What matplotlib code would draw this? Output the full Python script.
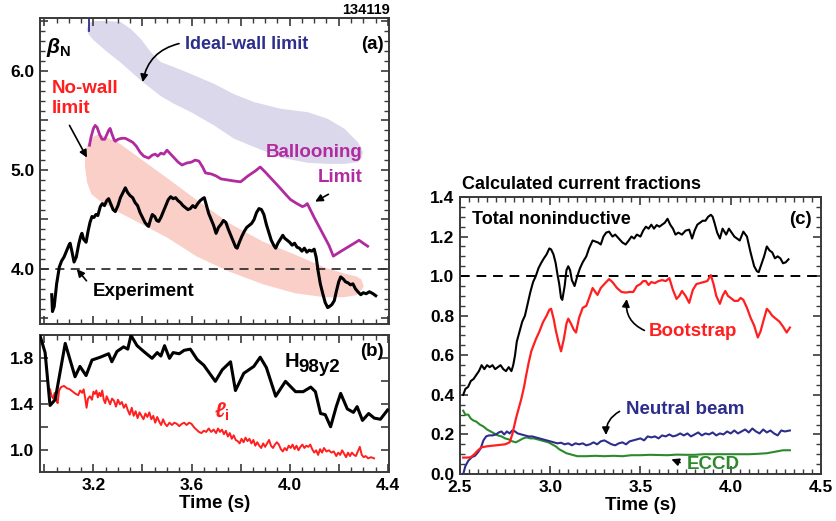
import matplotlib
matplotlib.use("Agg")
import matplotlib.pyplot as plt
from matplotlib import font_manager
from matplotlib.ticker import MultipleLocator, FuncFormatter

_names = {f.name for f in font_manager.fontManager.ttflist}
FONT = "Liberation Sans Narrow" if "Liberation Sans Narrow" in _names else "Liberation Sans"
plt.rcParams["font.family"] = [FONT, "DejaVu Sans"]
plt.rcParams["font.weight"] = "bold"
plt.rcParams["mathtext.fontset"] = "custom"
plt.rcParams["mathtext.rm"] = FONT + ":bold"
plt.rcParams["mathtext.bf"] = FONT + ":bold"
plt.rcParams["mathtext.it"] = FONT + ":italic:bold"

# ---------------- (a) beta_N ----------------
exp_t = [3.030, 3.033, 3.040, 3.050, 3.061, 3.070, 3.080, 3.090, 3.100, 3.105, 3.112, 3.121,
         3.130, 3.140, 3.148, 3.153, 3.160, 3.170, 3.178, 3.186, 3.194, 3.202, 3.210, 3.218,
         3.228, 3.236, 3.245, 3.254, 3.262, 3.270, 3.280, 3.289, 3.300, 3.310, 3.320, 3.330,
         3.340, 3.350, 3.360, 3.370, 3.380, 3.390, 3.400, 3.410, 3.420, 3.425, 3.433, 3.440,
         3.450, 3.458, 3.466, 3.475, 3.485, 3.495, 3.505, 3.515, 3.525, 3.535, 3.545, 3.555,
         3.565, 3.575, 3.585, 3.595, 3.605, 3.615, 3.625, 3.635, 3.645, 3.652, 3.660, 3.670,
         3.680, 3.690, 3.700, 3.710, 3.720, 3.730, 3.740, 3.750, 3.760, 3.770, 3.780, 3.786,
         3.795, 3.805, 3.815, 3.825, 3.835, 3.845, 3.855, 3.865, 3.875, 3.885, 3.895, 3.905,
         3.915, 3.925, 3.935, 3.943, 3.952, 3.962, 3.972, 3.980, 3.990, 4.000, 4.010, 4.020,
         4.030, 4.040, 4.050, 4.060, 4.070, 4.080, 4.090, 4.100, 4.108, 4.116, 4.125, 4.135,
         4.145, 4.155, 4.162, 4.172, 4.182, 4.190, 4.200, 4.208, 4.218, 4.228, 4.238, 4.248,
         4.258, 4.268, 4.278, 4.290, 4.300, 4.312, 4.325, 4.340, 4.351]
exp_beta = [3.74, 3.57, 3.62, 3.85, 4.02, 4.08, 4.12, 4.18, 4.24, 4.26, 4.18, 4.07,
            4.12, 4.25, 4.33, 4.36, 4.30, 4.27, 4.38, 4.47, 4.53, 4.52, 4.55, 4.54,
            4.63, 4.66, 4.64, 4.69, 4.71, 4.66, 4.60, 4.58, 4.64, 4.72, 4.77, 4.82,
            4.77, 4.74, 4.72, 4.67, 4.64, 4.57, 4.52, 4.47, 4.44, 4.43, 4.50, 4.55,
            4.53, 4.49, 4.48, 4.52, 4.58, 4.64, 4.70, 4.73, 4.71, 4.72, 4.69, 4.67,
            4.64, 4.62, 4.60, 4.61, 4.64, 4.62, 4.66, 4.69, 4.71, 4.72, 4.65, 4.56,
            4.50, 4.44, 4.36, 4.42, 4.45, 4.49, 4.47, 4.40, 4.34, 4.28, 4.22, 4.21,
            4.27, 4.33, 4.38, 4.42, 4.44, 4.46, 4.50, 4.57, 4.61, 4.60, 4.55, 4.45,
            4.37, 4.29, 4.24, 4.21, 4.26, 4.30, 4.34, 4.31, 4.29, 4.27, 4.24, 4.26,
            4.22, 4.21, 4.18, 4.21, 4.17, 4.19, 4.18, 4.20, 4.12, 3.98, 3.85, 3.75,
            3.66, 3.61, 3.62, 3.64, 3.68, 3.77, 3.87, 3.92, 3.90, 3.87, 3.86, 3.84,
            3.85, 3.80, 3.77, 3.74, 3.76, 3.75, 3.77, 3.75, 3.73]

ball_t = [3.184, 3.190, 3.200, 3.207, 3.215, 3.225, 3.235, 3.246, 3.255, 3.262, 3.268, 3.276,
          3.285, 3.290, 3.300, 3.315, 3.330, 3.345, 3.360, 3.375, 3.390, 3.405, 3.425, 3.440,
          3.452, 3.462, 3.475, 3.487, 3.500, 3.515, 3.530, 3.545, 3.561, 3.580, 3.600, 3.615,
          3.630, 3.645, 3.657, 3.680, 3.700, 3.720, 3.745, 3.770, 3.800, 3.830, 3.860, 3.880,
          3.900, 3.930, 3.960, 3.985, 4.004, 4.030, 4.052, 4.062, 4.072, 4.100, 4.130, 4.160,
          4.178, 4.210, 4.250, 4.283, 4.300, 4.318]
ball_beta = [5.25, 5.33, 5.42, 5.45, 5.43, 5.36, 5.31, 5.31, 5.36, 5.40, 5.42, 5.36,
             5.30, 5.29, 5.31, 5.32, 5.32, 5.30, 5.28, 5.24, 5.18, 5.14, 5.12, 5.15,
             5.16, 5.14, 5.17, 5.16, 5.20, 5.16, 5.12, 5.08, 5.05, 5.07, 5.08, 5.10,
             5.09, 5.03, 4.97, 4.96, 4.94, 4.91, 4.90, 4.89, 4.88, 4.94, 4.99, 5.03,
             4.98, 4.90, 4.82, 4.75, 4.70, 4.66, 4.63, 4.64, 4.66, 4.52, 4.38, 4.24,
             4.13, 4.18, 4.24, 4.29, 4.26, 4.23]

# Ideal-wall and no-wall stability limits (shaded ranges)
iw_t = [3.170, 3.180, 3.200, 3.255, 3.309, 3.350, 3.391, 3.432, 3.473, 3.527, 3.595,
        3.690, 3.772, 3.854, 3.963, 4.072, 4.153, 4.222, 4.276, 4.290, 4.297]
iw_upper = [6.42, 6.49, 6.51, 6.51, 6.50, 6.43, 6.33, 6.195, 6.094, 6.044, 5.976,
            5.875, 5.77, 5.69, 5.623, 5.589, 5.522, 5.421, 5.286, 5.23, 5.185]
iw_lower = [6.42, 6.37, 6.313, 6.195, 6.09, 6.00, 5.909, 5.83, 5.75, 5.673, 5.59,
            5.455, 5.32, 5.236, 5.13, 5.077, 5.067, 5.067, 5.084, 5.12, 5.185]

nw_t = [3.163, 3.172, 3.190, 3.220, 3.300, 3.400, 3.500, 3.620, 3.750, 3.890, 4.020,
        4.140, 4.220, 4.270, 4.290, 4.300]
nw_upper = [5.10, 5.25, 5.33, 5.37, 5.28, 5.10, 4.92, 4.70, 4.47, 4.28, 4.15,
            4.02, 3.96, 3.93, 3.90, 3.83]
nw_lower = [5.05, 4.88, 4.76, 4.70, 4.58, 4.45, 4.32, 4.13, 3.98, 3.85, 3.76,
            3.72, 3.72, 3.74, 3.79, 3.83]

iw_stub_t = [3.183, 3.183]
iw_stub_beta = [6.40, 6.54]

# ---------------- (b) H98y2 and li ----------------
h_t = [2.982, 3.003, 3.023, 3.044, 3.085, 3.125, 3.145, 3.170, 3.194, 3.228, 3.262, 3.275,
       3.296, 3.323, 3.340, 3.353, 3.378, 3.405, 3.439, 3.460, 3.475, 3.490, 3.510, 3.525,
       3.550, 3.570, 3.595, 3.623, 3.650, 3.697, 3.725, 3.759, 3.779, 3.813, 3.854, 3.880,
       3.905, 3.943, 3.983, 4.024, 4.055, 4.086, 4.105, 4.126, 4.145, 4.167, 4.190, 4.208,
       4.235, 4.260, 4.275, 4.297, 4.322, 4.345, 4.370, 4.399]
h98 = [2.00, 1.85, 1.39, 1.44, 1.93, 1.64, 1.73, 1.65, 1.785, 1.81, 1.84, 1.77,
       1.86, 1.90, 1.88, 2.00, 1.91, 1.86, 1.80, 1.85, 1.82, 1.91, 1.80, 1.85,
       1.84, 1.87, 1.88, 1.79, 1.74, 1.60, 1.70, 1.77, 1.52, 1.67, 1.73, 1.81,
       1.72, 1.47, 1.60, 1.51, 1.51, 1.55, 1.51, 1.32, 1.31, 1.205, 1.38, 1.495,
       1.36, 1.33, 1.38, 1.26, 1.32, 1.28, 1.27, 1.35]

li_t = [3.023, 3.030, 3.036, 3.042, 3.048, 3.054, 3.060, 3.068, 3.080, 3.092, 3.104, 3.116,
        3.128, 3.138, 3.146, 3.154, 3.160, 3.166, 3.172, 3.178, 3.186, 3.194, 3.200, 3.206,
        3.212, 3.218, 3.224, 3.230, 3.236, 3.242, 3.248, 3.254, 3.260, 3.268, 3.276, 3.284,
        3.292, 3.300, 3.308, 3.316, 3.324, 3.332, 3.340, 3.348, 3.356, 3.364, 3.372, 3.380,
        3.388, 3.396, 3.404, 3.412, 3.420, 3.428, 3.436, 3.444, 3.452, 3.460, 3.468, 3.476,
        3.484, 3.492, 3.500, 3.510, 3.520, 3.530, 3.540, 3.550, 3.560, 3.570, 3.580, 3.590,
        3.600, 3.610, 3.620, 3.630, 3.640, 3.650, 3.660, 3.670, 3.680, 3.690, 3.700, 3.708,
        3.716, 3.724, 3.732, 3.740, 3.748, 3.756, 3.764, 3.772, 3.780, 3.788, 3.796, 3.804,
        3.812, 3.820, 3.828, 3.836, 3.844, 3.852, 3.860, 3.868, 3.876, 3.884, 3.892, 3.900,
        3.908, 3.916, 3.924, 3.932, 3.940, 3.948, 3.956, 3.964, 3.972, 3.980, 3.988, 3.996,
        4.004, 4.012, 4.020, 4.028, 4.036, 4.044, 4.052, 4.060, 4.068, 4.076, 4.084, 4.092,
        4.100, 4.108, 4.116, 4.124, 4.132, 4.140, 4.150, 4.160, 4.170, 4.180, 4.190, 4.198,
        4.206, 4.214, 4.222, 4.230, 4.238, 4.246, 4.254, 4.262, 4.270, 4.278, 4.286, 4.294,
        4.302, 4.310, 4.320, 4.332, 4.344]
li = [1.53, 1.47, 1.45, 1.50, 1.44, 1.41, 1.52, 1.55, 1.56, 1.54, 1.53, 1.51,
      1.49, 1.48, 1.52, 1.50, 1.53, 1.46, 1.37, 1.45, 1.47, 1.44, 1.51, 1.49,
      1.52, 1.46, 1.50, 1.47, 1.52, 1.44, 1.41, 1.47, 1.44, 1.40, 1.45, 1.43,
      1.38, 1.44, 1.40, 1.42, 1.37, 1.40, 1.35, 1.31, 1.37, 1.30, 1.34, 1.28,
      1.33, 1.30, 1.27, 1.32, 1.29, 1.33, 1.27, 1.30, 1.24, 1.29, 1.25, 1.22,
      1.27, 1.23, 1.21, 1.24, 1.22, 1.24, 1.23, 1.21, 1.23, 1.24, 1.22, 1.24,
      1.23, 1.20, 1.18, 1.16, 1.15, 1.17, 1.16, 1.19, 1.16, 1.18, 1.15, 1.19,
      1.16, 1.18, 1.14, 1.17, 1.12, 1.15, 1.10, 1.13, 1.09, 1.08, 1.06, 1.10,
      1.07, 1.11, 1.08, 1.10, 1.06, 1.09, 1.04, 1.07, 1.04, 1.02, 1.06, 1.03,
      1.06, 1.09, 1.04, 1.02, 1.05, 1.07, 1.05, 1.01, 0.99, 1.02, 1.00, 1.04,
      1.02, 1.05, 1.01, 1.04, 1.00, 1.03, 1.05, 1.02, 1.04, 1.03, 1.05, 1.01,
      0.98, 1.00, 0.96, 1.01, 0.98, 1.02, 0.99, 1.00, 0.98, 0.99, 0.95, 0.98,
      0.96, 1.00, 0.97, 0.94, 0.98, 0.95, 0.98, 0.96, 0.95, 0.99, 1.03, 0.96,
      0.94, 0.95, 0.93, 0.94, 0.93]

# ---------------- (c) current fractions ----------------
tot_t = [2.518, 2.530, 2.545, 2.560, 2.575, 2.590, 2.605, 2.620, 2.635, 2.650, 2.665, 2.680,
         2.695, 2.710, 2.725, 2.740, 2.755, 2.770, 2.785, 2.795, 2.805, 2.815, 2.830, 2.845,
         2.860, 2.875, 2.890, 2.905, 2.920, 2.935, 2.950, 2.965, 2.980, 2.995, 3.005, 3.018,
         3.030, 3.040, 3.050, 3.060, 3.067, 3.080, 3.090, 3.100, 3.110, 3.120, 3.135, 3.150,
         3.165, 3.180, 3.200, 3.215, 3.235, 3.250, 3.265, 3.280, 3.295, 3.310, 3.326, 3.345,
         3.360, 3.380, 3.400, 3.418, 3.435, 3.450, 3.465, 3.480, 3.500, 3.515, 3.530, 3.545,
         3.560, 3.575, 3.590, 3.605, 3.620, 3.635, 3.650, 3.665, 3.680, 3.694, 3.710, 3.730,
         3.750, 3.770, 3.786, 3.800, 3.815, 3.830, 3.845, 3.860, 3.875, 3.890, 3.900, 3.910,
         3.925, 3.940, 3.955, 3.975, 3.990, 4.020, 4.050, 4.070, 4.090, 4.110, 4.130, 4.145,
         4.155, 4.170, 4.185, 4.200, 4.215, 4.230, 4.245, 4.260, 4.275, 4.290, 4.305, 4.320]
tot = [0.40, 0.43, 0.44, 0.47, 0.48, 0.50, 0.52, 0.55, 0.53, 0.55, 0.54, 0.55,
       0.53, 0.54, 0.55, 0.53, 0.52, 0.54, 0.52, 0.55, 0.60, 0.67, 0.72, 0.77,
       0.80, 0.86, 0.92, 0.97, 1.00, 1.04, 1.067, 1.09, 1.11, 1.14, 1.135, 1.11,
       1.067, 1.01, 0.96, 0.89, 0.88, 0.95, 1.03, 1.05, 1.03, 0.98, 0.95, 1.00,
       1.04, 1.07, 1.10, 1.14, 1.18, 1.175, 1.17, 1.16, 1.20, 1.22, 1.225, 1.20,
       1.21, 1.19, 1.17, 1.16, 1.18, 1.20, 1.19, 1.21, 1.20, 1.23, 1.25, 1.24,
       1.26, 1.24, 1.258, 1.25, 1.26, 1.27, 1.29, 1.26, 1.24, 1.21, 1.22, 1.21,
       1.23, 1.235, 1.19, 1.23, 1.26, 1.27, 1.28, 1.28, 1.30, 1.31, 1.30, 1.27,
       1.22, 1.19, 1.24, 1.21, 1.24, 1.20, 1.18, 1.225, 1.20, 1.12, 1.05, 1.025,
       1.02, 1.06, 1.10, 1.15, 1.13, 1.12, 1.09, 1.10, 1.09, 1.065, 1.07, 1.085]

bs_t = [2.518, 2.540, 2.560, 2.580, 2.600, 2.620, 2.650, 2.700, 2.750, 2.775, 2.790, 2.800,
        2.810, 2.825, 2.840, 2.855, 2.867, 2.880, 2.895, 2.920, 2.940, 2.960, 2.980, 2.995,
        3.005, 3.020, 3.030, 3.045, 3.060, 3.075, 3.090, 3.100, 3.115, 3.130, 3.143, 3.160,
        3.180, 3.200, 3.220, 3.235, 3.250, 3.262, 3.280, 3.300, 3.326, 3.345, 3.370, 3.395,
        3.418, 3.440, 3.460, 3.480, 3.500, 3.515, 3.530, 3.545, 3.560, 3.580, 3.600, 3.620,
        3.640, 3.660, 3.680, 3.700, 3.715, 3.730, 3.750, 3.770, 3.790, 3.810, 3.830, 3.850,
        3.870, 3.890, 3.905, 3.920, 3.940, 3.955, 3.970, 3.985, 4.000, 4.020, 4.040, 4.055,
        4.070, 4.090, 4.110, 4.130, 4.150, 4.165, 4.180, 4.200, 4.215, 4.230, 4.250, 4.270,
        4.290, 4.310, 4.328]
bs = [0.083, 0.083, 0.085, 0.10, 0.12, 0.135, 0.14, 0.145, 0.15, 0.16, 0.20, 0.24,
      0.28, 0.33, 0.38, 0.44, 0.50, 0.56, 0.62, 0.68, 0.72, 0.767, 0.80, 0.83,
      0.835, 0.78, 0.73, 0.67, 0.62, 0.68, 0.76, 0.785, 0.76, 0.73, 0.715, 0.79,
      0.84, 0.85, 0.90, 0.94, 0.92, 0.905, 0.94, 0.96, 0.985, 0.97, 0.94, 0.92,
      0.917, 0.92, 0.92, 0.95, 0.96, 0.975, 0.975, 0.955, 0.97, 0.965, 0.975, 0.98,
      0.975, 0.99, 0.93, 0.885, 0.90, 0.925, 0.90, 0.865, 0.93, 0.96, 0.965, 0.97,
      0.975, 1.005, 0.96, 0.90, 0.86, 0.90, 0.925, 0.90, 0.89, 0.875, 0.875, 0.89,
      0.88, 0.84, 0.79, 0.75, 0.69, 0.72, 0.77, 0.835, 0.82, 0.80, 0.785, 0.77,
      0.745, 0.715, 0.74]

nb_t = [2.518, 2.530, 2.546, 2.565, 2.583, 2.600, 2.615, 2.630, 2.645, 2.660, 2.680, 2.700,
        2.715, 2.730, 2.745, 2.760, 2.775, 2.790, 2.805, 2.820, 2.840, 2.860, 2.880, 2.900,
        2.920, 2.940, 2.960, 2.980, 3.000, 3.020, 3.040, 3.060, 3.080, 3.100, 3.120, 3.140,
        3.160, 3.180, 3.200, 3.220, 3.240, 3.260, 3.280, 3.300, 3.320, 3.340, 3.360, 3.380,
        3.400, 3.420, 3.440, 3.460, 3.480, 3.500, 3.520, 3.540, 3.560, 3.580, 3.600, 3.620,
        3.640, 3.660, 3.680, 3.700, 3.720, 3.740, 3.760, 3.780, 3.800, 3.820, 3.840, 3.860,
        3.880, 3.900, 3.920, 3.940, 3.960, 3.980, 4.000, 4.020, 4.040, 4.060, 4.080, 4.100,
        4.120, 4.140, 4.160, 4.180, 4.200, 4.220, 4.240, 4.260, 4.280, 4.300, 4.328]
nb = [0.00, 0.04, 0.067, 0.085, 0.092, 0.11, 0.13, 0.17, 0.19, 0.195, 0.195, 0.20,
      0.21, 0.215, 0.20, 0.215, 0.205, 0.22, 0.215, 0.205, 0.20, 0.195, 0.19, 0.19,
      0.185, 0.18, 0.175, 0.17, 0.165, 0.16, 0.155, 0.158, 0.15, 0.155, 0.145, 0.155,
      0.15, 0.155, 0.145, 0.15, 0.16, 0.15, 0.165, 0.17, 0.16, 0.15, 0.145, 0.155,
      0.16, 0.15, 0.165, 0.17, 0.175, 0.18, 0.17, 0.19, 0.185, 0.19, 0.18, 0.195,
      0.19, 0.20, 0.19, 0.195, 0.205, 0.195, 0.205, 0.19, 0.20, 0.21, 0.195, 0.205,
      0.20, 0.21, 0.195, 0.205, 0.20, 0.215, 0.205, 0.22, 0.205, 0.215, 0.225, 0.21,
      0.23, 0.215, 0.205, 0.225, 0.21, 0.22, 0.205, 0.195, 0.22, 0.215, 0.22]

ec_t = [2.518, 2.530, 2.546, 2.560, 2.575, 2.590, 2.610, 2.630, 2.650, 2.670, 2.690, 2.710,
        2.730, 2.750, 2.770, 2.790, 2.810, 2.830, 2.850, 2.870, 2.890, 2.910, 2.930, 2.950,
        2.970, 2.990, 3.010, 3.030, 3.050, 3.070, 3.090, 3.110, 3.130, 3.150, 3.200, 3.250,
        3.300, 3.350, 3.400, 3.450, 3.500, 3.550, 3.600, 3.650, 3.700, 3.750, 3.800, 3.850,
        3.900, 3.950, 4.000, 4.050, 4.100, 4.150, 4.200, 4.230, 4.260, 4.290, 4.328]
ec = [0.32, 0.30, 0.30, 0.28, 0.27, 0.265, 0.25, 0.24, 0.225, 0.215, 0.205, 0.195,
      0.19, 0.18, 0.175, 0.165, 0.16, 0.17, 0.18, 0.185, 0.18, 0.18, 0.175, 0.17,
      0.165, 0.16, 0.15, 0.14, 0.125, 0.115, 0.105, 0.10, 0.095, 0.09, 0.09, 0.092,
      0.09, 0.092, 0.09, 0.095, 0.095, 0.097, 0.096, 0.095, 0.098, 0.097, 0.097, 0.10,
      0.10, 0.10, 0.10, 0.10, 0.10, 0.102, 0.105, 0.11, 0.115, 0.12, 0.12]

NAVY = "#2d2d8c"
MAGENTA = "#b12a9f"
RED = "#ff1f1f"
GREEN = "#2c8a2c"
LAVENDER = "#dcd8ec"
PINK = "#f9cfc8"
FRAME = "#3a3a3a"

fig = plt.figure(figsize=(8.36, 5.21), dpi=100)
ax_a = fig.add_axes([0.0478, 0.3781, 0.4175, 0.5873])
ax_b = fig.add_axes([0.0478, 0.0940, 0.4175, 0.2630], sharex=ax_a)
ax_c = fig.add_axes([0.5502, 0.0902, 0.4318, 0.5317])


def style(ax):
    for s in ax.spines.values():
        s.set_color(FRAME)
        s.set_linewidth(1.4)
    ax.tick_params(which="both", direction="in", top=True, right=True,
                   color=FRAME, labelsize=12.5, pad=4)
    ax.tick_params(which="major", length=6, width=1.2)
    ax.tick_params(which="minor", length=3.5, width=1.0)
    for lab in ax.get_xticklabels() + ax.get_yticklabels():
        lab.set_fontweight("bold")


arrow_kw = dict(arrowstyle="-|>", color="black", lw=1.2, mutation_scale=11)

# ---- panel (a)
ax_a.fill_between(iw_t, iw_lower, iw_upper, color=LAVENDER, lw=0, zorder=1)
ax_a.fill_between(nw_t, nw_lower, nw_upper, color=PINK, lw=0, zorder=1)
ax_a.plot(iw_stub_t, iw_stub_beta, color=NAVY, lw=1.3, zorder=2)
ax_a.axhline(4.0, color="#333333", lw=1.3, ls=(0, (5, 3.5)), zorder=2)
ax_a.plot(ball_t, ball_beta, color=MAGENTA, lw=2.0, zorder=3)
ax_a.plot(exp_t, exp_beta, color="black", lw=2.2, zorder=4)
ax_a.set_xlim(2.982, 4.405)
ax_a.set_ylim(3.444, 6.535)
ax_a.xaxis.set_major_locator(MultipleLocator(0.2))
ax_a.xaxis.set_minor_locator(MultipleLocator(0.05))
ax_a.yaxis.set_major_locator(MultipleLocator(0.5))
ax_a.yaxis.set_minor_locator(MultipleLocator(0.1))
ax_a.yaxis.set_major_formatter(FuncFormatter(lambda v, p: f"{v:.1f}" if abs(v - round(v)) < 1e-6 else ""))
ax_a.tick_params(labelbottom=False)
style(ax_a)

ax_a.text(0.018, 0.905, r"$\beta_{\mathbf{N}}$", transform=ax_a.transAxes, fontsize=15,
          ha="left", va="center")
ax_a.text(0.985, 0.912, "(a)", transform=ax_a.transAxes, fontsize=13.5, ha="right", va="center")
ax_a.text(3.575, 6.263, "Ideal-wall limit", color=NAVY, fontsize=13, ha="left", va="center")
ax_a.annotate("", xy=(3.399, 5.86), xytext=(3.560, 6.283),
              arrowprops=dict(connectionstyle="arc3,rad=0.35", **arrow_kw))
ax_a.text(3.031, 5.725, "No-wall\nlimit", color=RED, fontsize=13.5, ha="left", va="center",
          linespacing=1.2)
ax_a.annotate("", xy=(3.179, 5.10), xytext=(3.097, 5.475), arrowprops=dict(**arrow_kw))
ax_a.text(4.298, 5.18, "Ballooning", color=MAGENTA, fontsize=13.5, ha="right", va="center")
ax_a.text(4.298, 4.92, "Limit", color=MAGENTA, fontsize=13.5, ha="right", va="center")
ax_a.annotate("", xy=(4.094, 4.667), xytext=(4.168, 4.768), arrowprops=dict(**arrow_kw))
ax_a.text(3.199, 3.77, "Experiment", color="black", fontsize=13.5, ha="left", va="center")
ax_a.annotate("", xy=(3.125, 4.02), xytext=(3.179, 3.859), arrowprops=dict(**arrow_kw))
fig.text(0.4665, 0.981, "134119", fontsize=10.5, ha="right", va="center")

# ---- panel (b)
ax_b.plot(li_t, li, color=RED, lw=1.4, zorder=3)
ax_b.plot(h_t, h98, color="black", lw=2.2, zorder=4)
ax_b.set_ylim(0.811, 2.003)
ax_b.xaxis.set_major_locator(MultipleLocator(0.2))
ax_b.xaxis.set_minor_locator(MultipleLocator(0.05))
ax_b.xaxis.set_major_formatter(FuncFormatter(lambda v, p: f"{v:.1f}" if abs(v * 10 / 4 - round(v * 10 / 4)) < 1e-6 else ""))
ax_b.yaxis.set_major_locator(MultipleLocator(0.2))
ax_b.yaxis.set_major_formatter(FuncFormatter(lambda v, p: f"{v:.1f}" if abs((v - 1.0) / 0.4 - round((v - 1.0) / 0.4)) < 1e-6 else ""))
style(ax_b)
ax_b.set_xlabel("Time (s)", fontsize=13.5, fontweight="bold", labelpad=2)
ax_b.text(0.702, 0.805, "H", transform=ax_b.transAxes, fontsize=14.5, ha="left", va="center")
ax_b.text(0.740, 0.765, "98y2", transform=ax_b.transAxes, fontsize=13.5, ha="left", va="center")
ax_b.text(0.985, 0.876, "(b)", transform=ax_b.transAxes, fontsize=13.5, ha="right", va="center")
ax_b.text(0.500, 0.44, r"$\ell_{\mathbf{i}}$", transform=ax_b.transAxes, fontsize=15,
          color=RED, ha="left", va="center")

# ---- panel (c)
ax_c.axhline(1.0, color="black", lw=1.4, ls=(0, (5, 3.5)), zorder=2)
ax_c.plot(ec_t, ec, color=GREEN, lw=1.5, zorder=3)
ax_c.plot(nb_t, nb, color=NAVY, lw=1.5, zorder=3)
ax_c.plot(bs_t, bs, color=RED, lw=1.6, zorder=4)
ax_c.plot(tot_t, tot, color="black", lw=1.5, zorder=5)
ax_c.set_xlim(2.5, 4.5)
ax_c.set_ylim(0.0, 1.4)
ax_c.xaxis.set_major_locator(MultipleLocator(0.5))
ax_c.xaxis.set_minor_locator(MultipleLocator(0.05))
ax_c.yaxis.set_major_locator(MultipleLocator(0.2))
ax_c.yaxis.set_minor_locator(MultipleLocator(0.05))
ax_c.xaxis.set_major_formatter(FuncFormatter(lambda v, p: f"{v:.1f}"))
ax_c.yaxis.set_major_formatter(FuncFormatter(lambda v, p: f"{v:.1f}"))
style(ax_c)
ax_c.set_xlabel("Time (s)", fontsize=13.5, fontweight="bold", labelpad=2)
fig.text(0.5526, 0.645, "Calculated current fractions", fontsize=13, ha="left", va="center")
ax_c.text(0.033, 0.917, "Total noninductive", transform=ax_c.transAxes, fontsize=13,
          ha="left", va="center")
ax_c.text(0.975, 0.917, "(c)", transform=ax_c.transAxes, fontsize=13.5, ha="right", va="center")
ax_c.text(3.547, 0.72, "Bootstrap", color=RED, fontsize=13.5, ha="left", va="center")
ax_c.annotate("", xy=(3.426, 0.898), xytext=(3.536, 0.72),
              arrowprops=dict(connectionstyle="arc3,rad=-0.4", **arrow_kw))
ax_c.text(3.42, 0.328, "Neutral beam", color=NAVY, fontsize=13.5, ha="left", va="center")
ax_c.annotate("", xy=(3.31, 0.183), xytext=(3.398, 0.323),
              arrowprops=dict(connectionstyle="arc3,rad=0.35", **arrow_kw))
ax_c.text(3.756, 0.048, "ECCD", color=GREEN, fontsize=13.5, ha="left", va="center")
ax_c.annotate("", xy=(3.657, 0.079), xytext=(3.734, 0.053), arrowprops=dict(**arrow_kw))

fig.savefig("out.png", dpi=100)
